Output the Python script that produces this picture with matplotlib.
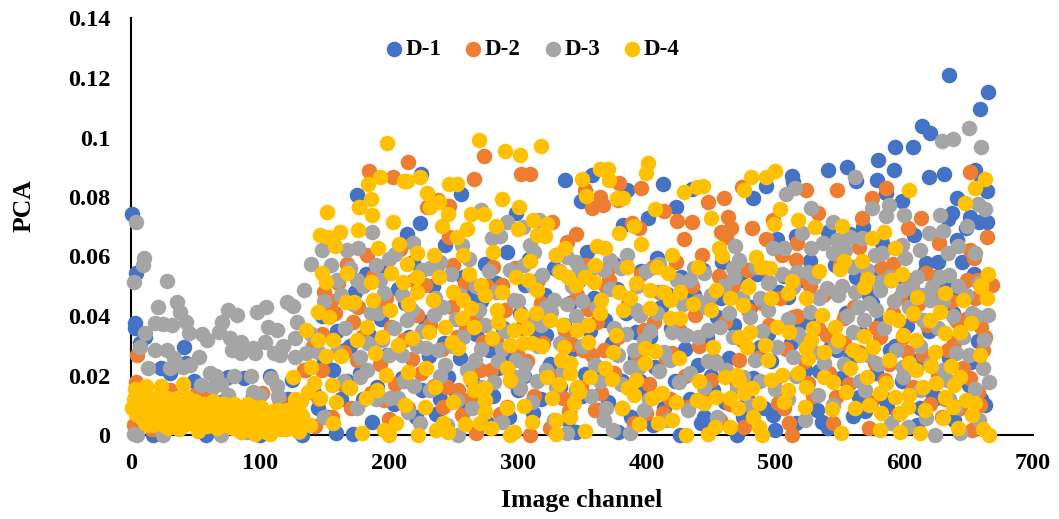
import matplotlib
matplotlib.use('Agg')
import matplotlib.pyplot as plt

# values as (image channel, PCA)
d1_points = [
    (1,.0743),(4,.0544),(3,.0376),(3,.036),(7,.031),(41,.0295),(43,.0242),(23,.0225),(49,.018),(75,.0195),(88,.019),
    (108,.0198),(125,.0185),(135,.022),(159,.0007),(17,.0),(58,.0),(133,.0),(11,.033),(30,.021),(62,.012),(95,.013),
    (115,.009),(38,.006),(80,.003),(100,.0),(172,.0005),(180,.012),
    (635,.121),(665,.1153),(659,.1096),(614,.1039),(620,.1015),(593,.0968),(607,.0968),(580,.0924),(592,.0891),(541,.0891),
    (556,.0901),(563,.0854),(579,.0857),(619,.0867),(631,.0877),(655,.0891),(660,.085),(664,.082),(641,.0797),(637,.0746),
    (634,.0725),(651,.0733),(658,.0716),(664,.0716),(648,.0695),(641,.0655),(645,.0581),(626,.0581),(617,.0578),(608,.0672),
    (598,.0787),(586,.0813),(513,.087),(514,.085),(493,.0837),(483,.0797),(501,.0659),(516,.0669),(541,.0682),(558,.0675),
    (583,.0645),(459,.058),(527,.0585),(581,.0555),(507,.0535),(568,.07),(175,.0807),(225,.0877),(256,.081),(224,.0713),
    (214,.0676),(299,.0746),(337,.0857),(358,.0874),(349,.0787),(385,.0823),(413,.0843),(435,.0827),(423,.0766),(401,.073),
    (382,.0706),(292,.0615),(244,.0639),(354,.0615),(532,.0085),(536,.0045),(541,.0023),(498,.0067),(500,.0017),(470,.0),
    (445,.0062),(565,.0129),(587,.0095),(589,.0286),(638,.0409),(643,.0476),(663,.0101),(650,.0168),(613,.0247),(652,.0247),
    (187,.0045),(204,.0105),(221,.006),(260,.0095),(246,.0195),(278,.0285),(312,.0075),(345,.001),(362,.0085),(378,.001),
    (405,.0035),(426,.0),(185,.0335),(213,.0445),(231,.0265),(262,.0465),(285,.0225),(306,.0505),(322,.0335),(341,.0445),
    (368,.0385),(392,.0345),(416,.0475),(440,.0235),(455,.0395),(472,.0525),(488,.0295),(520,.0375),(548,.0285),(575,.0445),
    (602,.0365),(628,.0205),(657,.0315),(166,.0285),(196,.0555),(238,.0575),(275,.0575),(330,.0605),(375,.0575),(408,.0595),
    (444,.0555),(510,.0465),(596,.0535),(534,.0215),(560,.0065),(610,.0035),(625,.0125),(478,.0125),(452,.015),(395,.018),
    (352,.0205),(300,.015),(240,.012),(168,.018),(150,.025),(145,.009),(160,.035),
    (142,.014),(148,.04),(153,.006),(157,.022),(163,.012),(170,.03),(174,.048),(178,.021),(182,.054),(191,.016),(194,.039),
    (199,.027),(207,.049),(210,.019),(216,.033),(219,.058),(226,.015),(229,.038),(234,.05),(237,.007),(243,.031),(249,.043),
    (252,.014),(255,.026),(258,.053),(265,.018),(268,.034),(272,.045),(276,.004),(281,.013),(283,.051),(289,.036),(293,.006),
    (296,.027),(302,.041),(305,.02),(309,.059),(315,.033),(318,.012),(321,.047),(325,.024),(328,.056),(333,.016),(336,.037),
    (339,.005),(343,.029),(348,.052),(350,.013),(356,.035),(359,.046),(364,.022),(370,.011),(373,.031),(377,.049),(381,.018),
    (384,.041),(388,.006),(391,.026),(396,.055),(400,.015),(403,.033),(407,.023),(411,.043),(414,.009),(419,.036),(422,.018),
    (427,.053),(430,.029),(434,.012),(437,.047),(442,.004),(447,.033),(450,.02),(458,.046),(461,.011),(464,.026),(468,.037),
    (475,.006),(480,.043),(483,.019),(486,.054),(491,.009),(494,.034),(497,.025),(503,.048),(506,.014),(512,.031),(516,.004),
    (519,.052),(523,.022),(526,.04),(530,.013),(539,.048),(543,.03),(546,.057),(551,.019),(555,.041),(558,.026),(563,.053),
    (567,.034),(570,.008),(573,.047),(578,.021),(582,.038),(585,.012),(590,.052),(593,.03),(598,.018),(605,.045),(608,.025),
    (612,.009),(616,.055),(619,.035),(622,.014),(632,.05),(635,.026),(639,.005),(642,.038),(647,.019),(654,.054),(660,.012),
    (20,.012),(45,.008),(70,.011),(92,.004),(122,.012),(52,.002),
]

d2_points = [
    (4,.0178),(2,.0035),(5,.027),(50,.0135),(108,.0065),(143,.003),(134,.022),(10,.006),(24,.012),(36,.003),(66,.009),
    (84,.002),(96,.011),(120,.004),(148,.034),(155,.045),(150,.048),(158,.041),(165,.028),(172,.038),(148,.022),
    (185,.0887),(203,.0867),(215,.0918),(274,.0938),(303,.0877),(310,.0877),(266,.086),(230,.0766),(238,.079),(247,.077),
    (177,.0767),(396,.083),(379,.0847),(364,.08),(358,.0763),(366,.0773),(378,.079),(352,.0823),(414,.0753),(424,.0719),
    (435,.0716),(429,.0659),(389,.0713),(394,.0696),(345,.0676),(338,.0649),(327,.0716),(247,.0666),(651,.0884),(586,.083),
    (548,.0823),(575,.0797),(567,.073),(603,.0696),(613,.073),(664,.0666),(627,.0645),(651,.0622),(654,.0595),(474,.0834),
    (524,.0823),(533,.0746),(460,.0797),(448,.0783),(463,.0733),(498,.0723),(482,.0696),(466,.0696),(458,.0682),(462,.0666),
    (493,.0659),(517,.0645),(516,.0588),(565,.0632),(591,.0575),(617,.0545),(649,.0521),(657,.0521),(668,.0504),(479,.0555),
    (456,.0535),(460,.0515),(527,.05),(202,.0364),(175,.0252),(196,.0118),(242,.0095),(257,.0067),(279,.0218),(273,.0314),
    (310,.0),(268,.0006),(292,.0095),(367,.0286),(351,.0286),(398,.0353),(254,.0151),(288,.0504),(250,.0571),(369,.0498),
    (413,.0073),(513,.0),(502,.0107),(507,.009),(472,.0252),(514,.0398),(553,.0392),(581,.0331),(577,.0241),(602,.028),
    (634,.0286),(646,.0224),(657,.0146),(661,.0286),(573,.0023),(629,.0062),(653,.0017),(547,.0129),(476,.0028),(660,.0364),
    (666,.0504),(190,.0445),(218,.0255),(228,.0505),(260,.0355),(300,.0265),(318,.0445),(335,.0125),(355,.0425),(384,.0165),
    (420,.0275),(438,.0405),(450,.0185),(490,.0445),(525,.0175),(540,.0335),(597,.0465),(620,.0105),(640,.0385),(168,.0575),
    (183,.0605),(209,.0625),(235,.0165),(281,.0565),(342,.0305),(372,.0565),(405,.0565),(443,.0605),(505,.0605),(530,.0545),
    (585,.0185),(608,.0405),(630,.0475),(200,.0055),(222,.0405),(325,.0025),(360,.0085),(400,.0075),(432,.0095),(465,.0105),
    (141,.03),(146,.012),(152,.041),(156,.006),(161,.051),(164,.017),(171,.009),(176,.043),(179,.033),(186,.014),(188,.053),
    (193,.024),(198,.046),(205,.017),(212,.032),(215,.009),(220,.052),(225,.021),(232,.037),(237,.056),(241,.029),(245,.016),
    (249,.043),(253,.033),(259,.051),(263,.012),(267,.04),(271,.022),(276,.05),(283,.032),(286,.007),(290,.042),(295,.018),
    (298,.056),(303,.036),(307,.025),(313,.013),(316,.052),(320,.031),(323,.042),(328,.02),(332,.055),(337,.035),(340,.008),
    (346,.047),(349,.016),(353,.057),(358,.027),(362,.038),(365,.014),(371,.052),(375,.021),(378,.033),(381,.009),(386,.044),
    (390,.004),(393,.027),(396,.054),(402,.017),(406,.038),(410,.048),(415,.026),(418,.012),(423,.058),(426,.035),(430,.02),
    (435,.05),(441,.03),(445,.012),(448,.044),(453,.025),(457,.005),(461,.038),(467,.05),(470,.017),(474,.032),(479,.042),
    (483,.01),(486,.026),(492,.056),(495,.037),(499,.018),(504,.046),(508,.029),(511,.004),(517,.04),(520,.053),(523,.025),
    (529,.013),(533,.036),(537,.047),(542,.021),(545,.004),(550,.057),(553,.031),(557,.017),(561,.043),(565,.028),(570,.05),
    (574,.011),(578,.036),(583,.056),(588,.024),(591,.041),(595,.007),(599,.033),(604,.052),(607,.016),(611,.044),(615,.027),
    (618,.037),(623,.053),(626,.02),(632,.012),(636,.045),(639,.031),(643,.009),(648,.039),(651,.019),(655,.046),(659,.01),(663,.033),
    (8,.011),(16,.002),(30,.015),(44,.009),(58,.013),(75,.012),(90,.007),(102,.014),(115,.012),(128,.01),
]

d3_points = [
    (4,.0716),(10,.0595),(2,.0514),(9,.0571),(28,.0518),(21,.043),(36,.0447),(38,.0413),(19,.0376),(25,.0372),(32,.037),
    (11,.0343),(43,.038),(45,.0343),(55,.034),(59,.032),(68,.0346),(71,.038),(75,.042),(82,.0403),(98,.0413),(105,.043),
    (121,.0447),(126,.0433),(134,.0487),(77,.0326),(85,.0313),(78,.0286),(85,.0275),(95,.0292),(96,.0275),(104,.0313),
    (106,.0363),(113,.0353),(118,.03),(111,.0275),(116,.0268),(127,.0262),(127,.0326),(129,.038),(136,.0275),(7,.0296),
    (19,.0285),(28,.0286),(33,.026),(13,.0225),(30,.0225),(40,.0229),(46,.0235),(53,.0262),(61,.0208),(66,.02),(54,.0168),
    (64,.016),(70,.0172),(80,.02),(75,.0135),(93,.02),(109,.0192),(100,.0134),(95,.0145),(113,.0165),(114,.0132),(2,.0005),
    (5,.0),(25,.0),(70,.0),(90,.001),(130,.001),(187,.0682),(176,.0628),(219,.0645),(257,.0639),(292,.0716),(280,.0662),
    (286,.0669),(304,.0699),(272,.0756),(317,.0723),(338,.0598),(372,.0588),(313,.0615),(515,.083),(508,.081),(562,.0867),
    (528,.0763),(575,.0763),(588,.0773),(586,.0736),(600,.0739),(628,.0739),(649,.0703),(657,.0776),(663,.076),(650,.1032),
    (660,.0968),(629,.0988),(638,.0995),(545,.0716),(521,.0679),(537,.0645),(528,.0628),(498,.0628),(507,.0628),(469,.0635),
    (472,.0588),(467,.0561),(468,.0531),(495,.0514),(548,.0655),(558,.0666),(567,.0662),(545,.0612),(554,.0622),(577,.0605),
    (583,.0612),(598,.0639),(601,.0595),(612,.0622),(619,.0679),(630,.0686),(634,.0612),(642,.0635),(655,.0612),(517,.0548),
    (525,.0548),(571,.0555),(560,.0565),(581,.0514),(589,.0531),(610,.0531),(628,.0531),(635,.0538),(148,.0622),(168,.0622),
    (140,.0575),(175,.052),(196,.0476),(186,.0409),(214,.0386),(235,.0403),(242,.0431),(226,.0554),(294,.0554),(297,.0454),
    (319,.0538),(328,.0454),(338,.0442),(326,.0414),(348,.0554),(367,.0554),(395,.0403),(420,.0347),(429,.0336),(414,.028),
    (418,.0252),(398,.0319),(390,.0286),(387,.023),(183,.0218),(178,.0196),(244,.0235),(267,.0252),(261,.0218),(299,.0252),
    (306,.0235),(302,.0157),(304,.0202),(282,.0179),(253,.0118),(201,.0123),(207,.0123),(215,.0078),(224,.0039),(288,.0045),
    (254,.0),(338,.0006),(357,.013),(369,.009),(367,.005),(374,.0017),(387,.0006),(398,.0084),(425,.0179),(431,.0336),
    (434,.0521),(432,.0084),(328,.005),(311,.0112),(178,.0263),(200,.0269),(238,.0286),(229,.0291),(480,.0398),(467,.0331),
    (457,.0364),(448,.0353),(501,.0297),(514,.0263),(484,.0252),(454,.0241),(538,.0241),(569,.0387),(573,.0443),(564,.0431),
    (549,.0471),(540,.0493),(527,.0415),(514,.0499),(594,.0286),(599,.023),(599,.0196),(581,.0487),(599,.0487),(620,.0454),
    (622,.0499),(653,.0409),(665,.0403),(661,.0224),(666,.0179),(650,.0269),(617,.0056),(624,.0),(643,.0006),(603,.0028),
    (523,.0051),(640,.0095),(445,.0163),(475,.0196),(494,.051),(533,.0135),(633,.0185),(140,.034),(150,.045),(160,.052),
    (172,.044),(145,.028),(165,.018),(190,.057),(205,.061),(240,.058),(262,.059),(310,.064),(345,.058),(385,.0605),(410,.0575),
    (445,.0545),(485,.0565),(255,.047),(275,.037),(316,.03),(345,.04),(375,.036),(408,.041),(440,.045),(470,.0155),(500,.0155),
    (560,.0345),(615,.0385),(640,.0275),(655,.0155),(195,.032),(220,.0165),(245,.0035),(335,.0215),(360,.0235),(410,.0215),
    (155,.057),(163,.047),(170,.056),(180,.05),(193,.052),(200,.059),(210,.047),(218,.042),(232,.056),(248,.054),(252,.039),
    (268,.05),(278,.055),(283,.048),(305,.057),(312,.05),(322,.043),(332,.055),(342,.05),(350,.045),(358,.056),(372,.049),
    (380,.056),(393,.05),(400,.055),(424,.052),(437,.056),(450,.047),(460,.05),(488,.046),(505,.054),(530,.053),(552,.05),
    (562,.048),(592,.045),(606,.05),(614,.047),(630,.045),(642,.05),(648,.047),(658,.051),(160,.028),(184,.031),(210,.027),
    (226,.035),(250,.03),(272,.029),(290,.035),(310,.038),(322,.022),(350,.03),(378,.027),(403,.035),(440,.033),(462,.022),
    (490,.035),(510,.039),(522,.032),(546,.03),(553,.024),(572,.027),(584,.036),(612,.03),(630,.022),(646,.033),(662,.032),
    (190,.012),(232,.015),(265,.009),(285,.025),(315,.018),(345,.015),(380,.017),(402,.012),(417,.005),(455,.006),(480,.01),
    (510,.012),(545,.01),(570,.015),(590,.004),(612,.015),(635,.012),(658,.005),(150,.006),(175,.009),
    (166,.036),(192,.041),(204,.036),(222,.03),(236,.046),(258,.033),(270,.042),(288,.029),(300,.045),(318,.037),(333,.031),
    (352,.037),(362,.043),(384,.034),(392,.042),(412,.048),(428,.044),(446,.043),(464,.041),(474,.046),(494,.042),(518,.034),
    (534,.046),(556,.04),(578,.042),(604,.043),(626,.036),(638,.04),(656,.04),(212,.018),(240,.02),(272,.016),(296,.02),
    (330,.016),(364,.018),(394,.023),(434,.021),(448,.025),(488,.018),(516,.02),(530,.028),(566,.018),(580,.024),(620,.024),
]

d4_points = [
    (3,.0155),(12,.0165),(23,.0165),(40,.0172),(126,.0195),(140,.023),(1,.009),(5,.012),(8,.006),(10,.0105),(14,.0035),
    (16,.0085),(19,.0125),(21,.0045),(24,.0095),(27,.0125),(29,.0025),(31,.0075),(34,.0105),(37,.002),(39,.0055),(42,.01),
    (44,.0125),(47,.004),(49,.0085),(52,.0015),(54,.0065),(57,.0105),(59,.003),(62,.0085),(64,.0115),(67,.0025),(69,.0065),
    (72,.0105),(74,.0035),(77,.0085),(80,.0105),(82,.005),(85,.001),(87,.0075),(90,.0105),(93,.004),(96,.0005),(98,.0065),
    (101,.0095),(103,.003),(106,.0075),(108,.0005),(111,.0055),(114,.0085),(116,.002),(119,.0055),(121,.0085),(124,.0025),
    (127,.0065),(130,.0015),(133,.0065),(139,.0035),(127,.012),(137,.0145),(147,.0125),(132,.0115),(142,.0175),(148,.0544),
    (2,.012),(6,.0075),(9,.0135),(13,.009),(17,.0035),(20,.0085),(25,.005),(28,.0095),(33,.004),(36,.0125),(41,.0035),(46,.0085),
    (50,.0115),(55,.003),(60,.0075),(65,.0055),(70,.0095),(75,.0065),(79,.0025),(84,.0085),(89,.004),(94,.0075),(99,.0025),
    (104,.0065),(109,.004),(113,.0025),(118,.0075),(122,.004),(129,.009),(135,.004),(15,.012),(30,.012),(48,.0115),(68,.0105),
    (4,.007),(11,.004),(18,.007),(22,.011),(26,.003),(32,.0055),(35,.008),(43,.006),(51,.006),(56,.0055),(61,.005),(66,.0085),
    (71,.004),(76,.0095),(81,.0075),(86,.005),(91,.0075),(95,.0095),(100,.0045),(105,.001),(110,.008),(115,.0055),(120,.002),
    (125,.009),(131,.007),
    (151,.0514),(136,.0353),(145,.032),(145,.0413),(154,.0397),(157,.032),(151,.0265),(163,.0265),(167,.0447),(156,.0168),
    (169,.016),(159,.011),(157,.004),(152,.0749),(147,.0672),(153,.0665),(162,.0682),(158,.0635),
    (199,.098),(270,.0993),(290,.0956),(302,.0942),(318,.0973),(184,.0843),(193,.0866),(212,.0855),(214,.0855),(224,.0866),
    (230,.0815),(186,.0792),(177,.0767),(187,.0739),(176,.069),(203,.0716),(232,.0766),(239,.0783),(246,.0742),(241,.0702),
    (247,.0843),(253,.0843),(288,.0793),(301,.0767),(264,.0742),(274,.0742),(283,.0703),(261,.0692),(253,.0666),(300,.0692),
    (312,.0723),(323,.0709),(315,.0672),(321,.0669),(208,.0642),(192,.0628),(350,.086),(353,.0803),(364,.0894),(370,.0894),
    (371,.0857),(377,.0797),(382,.0797),(401,.0914),(400,.088),(429,.0816),(407,.076),(439,.0834),(379,.0679),(390,.0703),
    (396,.0642),(337,.0628),(362,.0635),(368,.0628),(444,.0837),(481,.0867),(476,.0823),(493,.0867),(500,.0887),(450,.073),
    (504,.076),(499,.0709),(518,.0723),(531,.0699),(552,.0703),(604,.0823),(575,.0662),(584,.0682),(593,.0628),(647,.078),
    (655,.083),(663,.086),(456,.0628),(459,.0602),(485,.0598),(489,.0565),(496,.0561),(534,.0551),(553,.0585),(550,.0558),
    (567,.0585),(598,.0541),(590,.0521),(571,.0524),(665,.0541),(660,.0504),(479,.05),(513,.0518),
    (186,.0515),(202,.0543),(211,.0515),(222,.0532),(239,.0532),(262,.054),(222,.0482),(215,.0442),(234,.0454),(201,.042),
    (173,.0448),(188,.0454),(250,.0482),(258,.0454),(264,.0426),(257,.0392),(266,.0364),(272,.0504),(275,.047),(288,.0482),
    (284,.042),(285,.0381),(297,.0353),(307,.0358),(303,.0403),(314,.0409),(299,.0532),(308,.0521),(315,.0487),(325,.0386),
    (335,.0369),(346,.0353),(355,.0369),(364,.0409),(365,.0454),(333,.0549),(339,.0532),(345,.0504),(352,.0532),(359,.0515),
    (379,.0482),(387,.046),(382,.042),(392,.051),(403,.0487),(414,.0482),(426,.0482),(418,.0454),(403,.0426),(418,.0392),
    (426,.0392),(436,.0442),(408,.0566),(417,.0543),(385,.0566),(360,.0571),(183,.0364),(175,.032),(195,.0328),(189,.0277),
    (207,.0302),(218,.0325),(231,.0347),(244,.0364),(249,.0314),(254,.0291),(280,.0325),(294,.0302),(304,.0308),(311,.031),
    (319,.0299),(336,.0295),(334,.0252),(341,.0241),(355,.0314),(376,.0336),(374,.028),(399,.0291),(407,.0283),(399,.0241),
    (425,.0258),(198,.0202),(215,.0213),(229,.0224),(236,.0162),(263,.019),(266,.0151),(275,.0157),(292,.0224),(294,.0185),
    (323,.0196),(332,.0173),(341,.0207),(356,.0196),(368,.0224),(373,.0187),(346,.0162),(348,.0146),(392,.0185),(386,.0157),
    (390,.0134),(404,.0123),(412,.014),(170,.0157),(182,.0123),(191,.0151),(213,.0101),(228,.0095),(250,.0112),(275,.0118),
    (275,.0078),(292,.009),(305,.0099),(327,.0123),(344,.0106),(341,.0062),(381,.009),(423,.0112),(439,.0118),(179,.0006),
    (206,.0039),(196,.0017),(200,.0),(223,.0),(237,.0017),(242,.0039),(246,.0011),(259,.0037),(271,.0039),(279,.0022),
    (297,.0011),(294,.0),(311,.0045),(330,.005),(330,.0003),(352,.0013),(394,.0037),(409,.0039),(420,.005),(431,.0),
    (454,.0487),(465,.0459),(450,.042),(475,.0437),(479,.0499),(497,.0459),(510,.0476),(524,.0459),(536,.0403),(546,.0364),
    (529,.0359),(569,.0499),(589,.0398),(595,.0387),(610,.0465),(607,.0409),(628,.0415),(620,.0387),(632,.0476),(652,.0378),
    (646,.0454),(660,.0499),(664,.0459),(480,.0347),(472,.0331),(478,.0297),(501,.0364),(511,.0347),(492,.0303),(494,.0252),
    (452,.0297),(569,.0333),(599,.0336),(609,.0319),(632,.0342),(643,.0347),(525,.0258),(524,.0291),(528,.0319),(538,.028),
    (549,.0319),(560,.0286),(576,.0297),(558,.0224),(566,.0269),(588,.0252),(604,.0241),(609,.0219),(621,.0232),(624,.028),
    (636,.0232),(659,.0269),(643,.0196),(639,.0168),(461,.0196),(470,.0202),(472,.018),(482,.0157),(476,.014),(487,.0107),
    (441,.018),(454,.0129),(465,.0123),(445,.0107),(497,.0185),(505,.0202),(518,.0207),(507,.0112),(510,.0151),(524,.0163),
    (538,.0196),(545,.0179),(555,.0146),(571,.0196),(586,.0174),(593,.0129),(581,.014),(604,.0135),(615,.0163),(625,.0174),
    (632,.0129),(648,.0118),(655,.0107),(523,.0095),(544,.0087),(562,.009),(573,.0101),(582,.0073),(603,.0095),(597,.0073),
    (616,.0084),(630,.0056),(638,.0095),(653,.0067),(471,.009),(483,.0062),(487,.0028),(465,.0028),(453,.0028),(448,.0003),
    (490,.0),(551,.0006),(581,.0017),(597,.0011),(612,.0006),(642,.0023),(661,.0019),(666,.0),(235,.0605),(222,.0612),
    (258,.0605),(281,.0615),(214,.0575),(168,.0545),(310,.0585),(330,.0605),(440,.0565),(420,.0605),
]

series_names = ['D-1', 'D-2', 'D-3', 'D-4']
series_colors = ['#4472C4', '#ED7D31', '#A5A5A5', '#FFC000']
x_ticks = [0, 100, 200, 300, 400, 500, 600, 700]
y_ticks = [0, 0.02, 0.04, 0.06, 0.08, 0.1, 0.12, 0.14]
y_labels = ['0', '0.02', '0.04', '0.06', '0.08', '0.1', '0.12', '0.14']

plt.rcParams['font.family'] = ['Liberation Serif', 'DejaVu Serif']
plt.rcParams['font.weight'] = 'bold'

W, H = 1059, 519
fig = plt.figure(figsize=(W / 100, H / 100), dpi=100)
ax = fig.add_axes([131 / W, (H - 435) / H, (1033 - 131) / W, (435 - 18.5) / H])

all_points = [d1_points, d2_points, d3_points, d4_points]
for pts, name, col in zip(all_points, series_names, series_colors):
    xs = [p[0] for p in pts]
    ys = [p[1] for p in pts]
    ax.scatter(xs, ys, s=125, color=col, linewidths=0, label=name, clip_on=False, zorder=3)

ax.set_xlim(0, 700)
ax.set_ylim(0, 0.14)
ax.set_xticks(x_ticks)
ax.set_yticks(y_ticks)
ax.set_yticklabels(y_labels)
ax.tick_params(axis='both', length=0, labelsize=17.5)
ax.tick_params(axis='x', pad=13)
ax.tick_params(axis='y', pad=15)

for side in ['top', 'right']:
    ax.spines[side].set_visible(False)
for side in ['left', 'bottom']:
    ax.spines[side].set_linewidth(1.5)
    ax.spines[side].set_zorder(1)

fig.text(582 / W, 1 - 500 / H, 'Image channel', fontsize=18.5, fontweight='bold', ha='center', va='center')
fig.text(24 / W, 1 - 206 / H, 'PCA', fontsize=18.5, fontweight='bold', rotation=90, ha='center', va='center')

fig.legend(loc='center', bbox_to_anchor=(531 / W, 1 - 49 / H), ncol=4, frameon=False, fontsize=16.5,
           handlelength=1.0, handletextpad=0.0, columnspacing=0.9, borderpad=0)

fig.savefig('out.png', dpi=100)
